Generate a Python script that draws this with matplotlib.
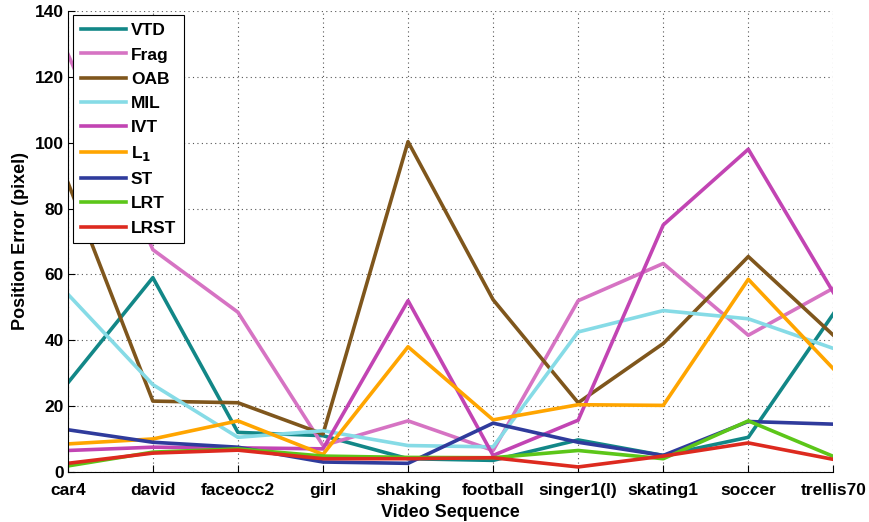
import numpy as np
import matplotlib.pyplot as plt

sequences = ['car4', 'david', 'faceocc2', 'girl', 'shaking', 'football',
             'singer1(l)', 'skating1', 'soccer', 'trellis70']

vtd = [27, 59, 12, 11, 4, 3.5, 9.7, 5, 10.5, 48]
frag = [127, 67.5, 48.5, 8, 15.5, 6.5, 52, 63.3, 41.5, 55.8]
oab = [88, 21.5, 21, 11.5, 100.3, 52.3, 21, 39, 65.4, 41.5]
mil = [54, 26.5, 10.5, 12.5, 8, 7.6, 42.5, 49, 46.5, 37.5]
ivt = [6.5, 7.5, 7.3, 7, 52, 5, 15.7, 75, 98, 54.5]
l1 = [8.5, 10, 15.5, 5.3, 38, 15.8, 20.4, 20.2, 58.5, 31.3]
st = [12.8, 9, 7.5, 3, 2.6, 14.8, 9, 5, 15.3, 14.5]
lrt = [1.8, 6, 7, 4.8, 4.4, 4.3, 6.5, 4, 15.5, 4.7]
lrst = [2.6, 5.7, 6.6, 4, 4, 4.3, 1.5, 4.8, 8.8, 3.8]

series = [
    ('VTD', vtd, '#128787'),
    ('Frag', frag, '#d673c3'),
    ('OAB', oab, '#7f561c'),
    ('MIL', mil, '#86dbe6'),
    ('IVT', ivt, '#c244b3'),
    (r'L$_\mathbf{1}$', l1, '#ffa500'),
    ('ST', st, '#2f3b9c'),
    ('LRT', lrt, '#5cc619'),
    ('LRST', lrst, '#dd2a1f'),
]

plt.rcParams['font.family'] = ['Liberation Sans', 'DejaVu Sans']
plt.rcParams['font.weight'] = 'bold'
plt.rcParams['mathtext.default'] = 'bf'

fig = plt.figure(figsize=(8.69, 5.22), dpi=100)
ax = fig.add_axes([0.078, 0.096, 0.881, 0.883])

x = np.arange(len(sequences))
for name, vals, col in series:
    ax.plot(x, vals, color=col, lw=2.6, label=name)

ax.set_xlim(0, len(sequences) - 1)
ax.set_ylim(0, 140)
ax.set_xticks(x)
ax.set_xticklabels(sequences, fontsize=12.5, fontweight='bold')
ax.set_yticks(np.arange(0, 141, 20))
ax.tick_params(axis='y', labelsize=12.5, direction='in', length=5, pad=3)
ax.tick_params(axis='x', direction='in', length=5, pad=8)
for lab in ax.get_yticklabels():
    lab.set_fontweight('bold')

ax.grid(True, linestyle=(0, (1, 3)), color='#555555', lw=0.8)
ax.spines['top'].set_visible(False)
ax.spines['right'].set_visible(False)

ax.set_xlabel('Video Sequence', fontsize=13, fontweight='bold', labelpad=4)
ax.set_ylabel('Position Error (pixel)', fontsize=13, fontweight='bold', labelpad=4)

leg = ax.legend(loc='upper left', bbox_to_anchor=(0.002, 0.998), fontsize=12.5,
                fancybox=False, framealpha=1, edgecolor='black',
                handlelength=2.6, labelspacing=0.52, borderpad=0.45,
                handletextpad=0.3, borderaxespad=0.2)
leg.get_frame().set_linewidth(0.8)
for t in leg.get_texts():
    t.set_fontweight('bold')

fig.savefig('out.png', dpi=100)
